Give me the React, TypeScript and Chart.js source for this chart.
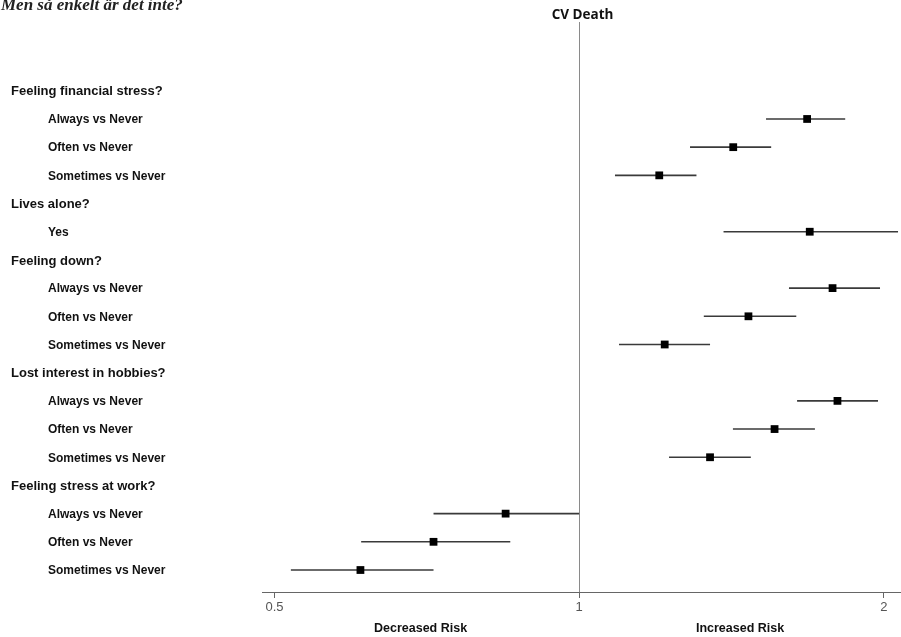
import React, { useEffect, useRef } from "react";
import { Chart, registerables } from "chart.js";

Chart.register(...registerables);

// ---- data ----
const groups = [
  "Feeling financial stress?",
  "Lives alone?",
  "Feeling down?",
  "Lost interest in hobbies?",
  "Feeling stress at work?",
];
const groupItems = [
  ["Always vs Never", "Often vs Never", "Sometimes vs Never"],
  ["Yes"],
  ["Always vs Never", "Often vs Never", "Sometimes vs Never"],
  ["Always vs Never", "Often vs Never", "Sometimes vs Never"],
  ["Always vs Never", "Often vs Never", "Sometimes vs Never"],
];
const hazardRatios = [1.68, 1.42, 1.2, 1.69, 1.78, 1.47, 1.215, 1.8, 1.56, 1.347, 0.846, 0.718, 0.608];
const lowerCI = [1.53, 1.287, 1.085, 1.389, 1.612, 1.328, 1.095, 1.642, 1.419, 1.227, 0.718, 0.609, 0.519];
const upperCI = [1.832, 1.548, 1.306, 2.066, 1.983, 1.639, 1.347, 1.974, 1.71, 1.478, 1.0, 0.855, 0.718];
const xTicks = [0.5, 1, 2];
const chartTitle = "CV Death";
const topNote = "Men så enkelt är det inte?";
const leftAxisLabel = "Decreased Risk";
const rightAxisLabel = "Increased Risk";

type Row = { label: string; header: boolean; k: number };
const rows: Row[] = [];
{
  let k = 0;
  groups.forEach((g, gi) => {
    rows.push({ label: g, header: true, k: -1 });
    groupItems[gi].forEach((it) => {
      rows.push({ label: it, header: false, k: k++ });
    });
  });
}

const pointData = rows
  .map((r, i) => (r.header ? null : { x: hazardRatios[r.k], y: i, lo: lowerCI[r.k], hi: upperCI[r.k] }))
  .filter((p) => p !== null) as { x: number; y: number; lo: number; hi: number }[];

const forestPlugin = {
  id: "forest",
  beforeDatasetsDraw(chart: any) {
    const { ctx, chartArea, scales } = chart;
    const xs = scales.x;
    const ys = scales.y;
    ctx.save();
    // reference line at 1
    const x1 = Math.round(xs.getPixelForValue(1)) + 0.5;
    ctx.strokeStyle = "#8a8a8a";
    ctx.lineWidth = 1;
    ctx.beginPath();
    ctx.moveTo(x1, chartArea.top);
    ctx.lineTo(x1, chartArea.bottom);
    ctx.stroke();
    // CI lines
    ctx.strokeStyle = "#3a3a3a";
    ctx.lineWidth = 1.6;
    pointData.forEach((p) => {
      const y = ys.getPixelForValue(p.y);
      ctx.beginPath();
      ctx.moveTo(xs.getPixelForValue(p.lo), y);
      ctx.lineTo(xs.getPixelForValue(p.hi), y);
      ctx.stroke();
    });
    ctx.restore();
  },
  afterDraw(chart: any) {
    const { ctx, chartArea, scales } = chart;
    const xs = scales.x;
    const ys = scales.y;
    ctx.save();
    // top note (cropped)
    ctx.fillStyle = "#222";
    ctx.font = 'italic bold 17px "Liberation Serif"';
    ctx.textAlign = "left";
    ctx.textBaseline = "alphabetic";
    ctx.fillText(topNote, 1, 10);
    // title
    ctx.fillStyle = "#111";
    ctx.font = 'bold 13.5px "Open Sans"';
    ctx.textAlign = "center";
    ctx.textBaseline = "middle";
    ctx.fillText(chartTitle, (chartArea.left + chartArea.right) / 2 + 1, 15);
    // row labels
    ctx.textAlign = "left";
    rows.forEach((r, i) => {
      const y = ys.getPixelForValue(i) + 1;
      if (r.header) {
        ctx.font = 'bold 13px "Liberation Sans"';
        ctx.fillText(r.label, 11, y);
      } else {
        ctx.font = 'bold 12px "Liberation Sans"';
        ctx.fillText(r.label, 48, y);
      }
    });
    // risk labels
    const xm = xs.getPixelForValue(1);
    ctx.font = 'bold 12.5px "Liberation Sans Narrow", "Liberation Sans"';
    ctx.textAlign = "center";
    ctx.fillText(leftAxisLabel, (chartArea.left + xm) / 2, 629);
    ctx.fillText(rightAxisLabel, (xm + chartArea.right) / 2, 629);
    ctx.restore();
  },
};

export default function App() {
  const ref = useRef<HTMLCanvasElement>(null);
  useEffect(() => {
    if (!ref.current) return;
    const chart = new Chart(ref.current, {
      type: "scatter",
      data: {
        datasets: [
          {
            data: pointData,
            pointStyle: "rect",
            pointRadius: 5.5,
            pointHoverRadius: 5.5,
            backgroundColor: "#000",
            borderColor: "#000",
            borderWidth: 0,
          },
        ],
      },
      options: {
        animation: false,
        responsive: false,
        devicePixelRatio: 1,
        layout: { autoPadding: false, padding: { left: 262, top: 22, right: 0, bottom: 0 } },
        plugins: { legend: { display: false }, tooltip: { enabled: false }, title: { display: false } },
        scales: {
          x: {
            type: "logarithmic",
            min: 0.486,
            max: 2.08,
            afterBuildTicks: (scale: any) => {
              scale.ticks = xTicks.map((v) => ({ value: v }));
            },
            afterFit: (scale: any) => {
              scale.height = 45;
            },
            ticks: {
              autoSkip: false,
              maxRotation: 0,
              color: "#555",
              font: { family: '"Liberation Sans Narrow", "Liberation Sans"', size: 13 },
              padding: 2,
              callback: (v: any) => String(v),
            },
            grid: { display: true, drawOnChartArea: false, drawTicks: true, tickLength: 6, color: "#666" },
            border: { display: true, color: "#666" },
          },
          y: {
            type: "linear",
            min: -2.44,
            max: 17.78,
            reverse: true,
            display: false,
          },
        },
      },
      plugins: [forestPlugin],
    });
    return () => chart.destroy();
  }, []);
  return (
    <div style={{ position: "absolute", left: 0, top: 0, width: 901, height: 637 }}>
      <canvas ref={ref} width={901} height={637} style={{ display: "block" }} />
    </div>
  );
}
